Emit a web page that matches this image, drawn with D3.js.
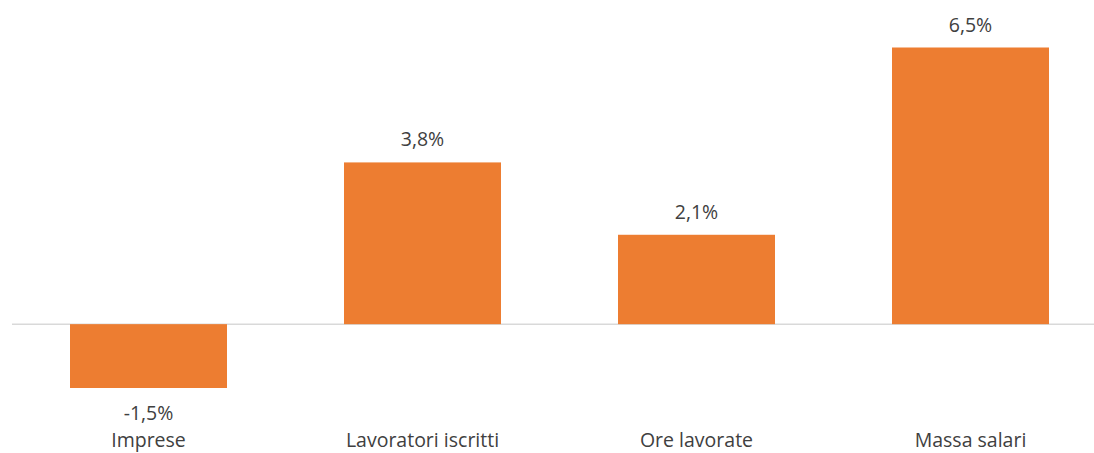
<!DOCTYPE html>
<html><head><meta charset="utf-8">
<script src="https://cdn.jsdelivr.net/npm/d3@7"></script>
<style>body{margin:0;background:#fff;}svg{display:block;}</style>
</head><body>
<svg id="c" width="1094" height="453"></svg>
<script>
const categories = ["Imprese", "Lavoratori iscritti", "Ore lavorate", "Massa salari"];
const values = [-1.5, 3.8, 2.1, 6.5];
const valueLabels = ["-1,5%", "3,8%", "2,1%", "6,5%"];

const svg = d3.select("#c");
const font = "'Open Sans', sans-serif";
const x = d3.scaleBand().domain(categories).range([11.5, 1107.5]).paddingInner(0.427).paddingOuter(0.2135);
const y = d3.scaleLinear().domain([-1.5, 6.5]).range([388, 47.5]);

svg.append("line").attr("x1", 12).attr("x2", 1094).attr("y1", y(0)).attr("y2", y(0))
  .attr("stroke", "#d9d9d9").attr("stroke-width", 1.5);

svg.selectAll("rect.bar").data(values).join("rect").attr("class", "bar")
  .attr("x", (d, i) => x(categories[i]))
  .attr("width", x.bandwidth())
  .attr("y", d => y(Math.max(0, d)))
  .attr("height", d => Math.abs(y(d) - y(0)))
  .attr("fill", "#ED7D31");

svg.selectAll("text.val").data(values).join("text").attr("class", "val")
  .attr("x", (d, i) => x(categories[i]) + x.bandwidth() / 2)
  .attr("y", d => d >= 0 ? y(d) - 16 : y(d) + 32)
  .attr("text-anchor", "middle")
  .attr("font-family", font).attr("font-size", 19.5).attr("fill", "#404040")
  .text((d, i) => valueLabels[i]);

svg.selectAll("text.cat").data(categories).join("text").attr("class", "cat")
  .attr("x", d => x(d) + x.bandwidth() / 2)
  .attr("y", 447)
  .attr("text-anchor", "middle")
  .attr("font-family", font).attr("font-size", 19.5).attr("fill", "#404040")
  .text(d => d);
</script>
</body></html>
